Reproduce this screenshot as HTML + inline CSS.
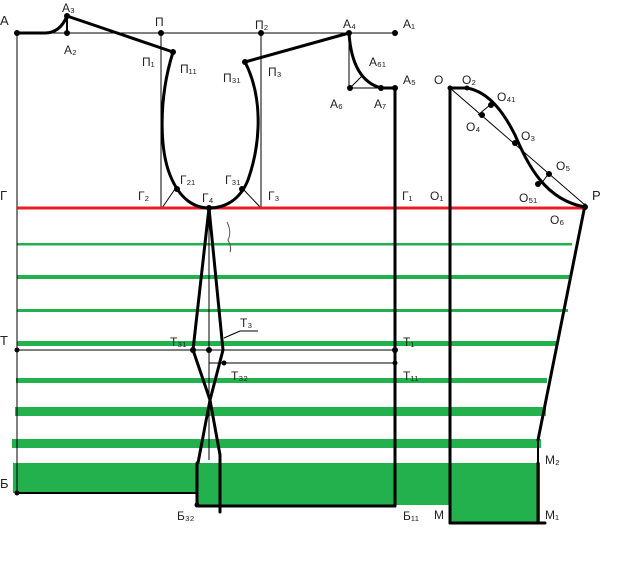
<!DOCTYPE html>
<html><head><meta charset="utf-8"><style>
html,body{margin:0;padding:0;background:#fff;}
svg{display:block;font-family:"Liberation Sans",sans-serif;}
text{font-size:12px;fill:#222;}
</style></head><body>
<svg width="640" height="569" viewBox="0 0 640 569" xmlns="http://www.w3.org/2000/svg">
<g fill="#22b14c">
<rect x="17" y="243" width="555" height="2.5"/>
<rect x="17" y="275" width="553" height="4"/>
<rect x="17" y="309" width="551" height="3"/>
<rect x="17" y="341" width="539" height="5"/>
<rect x="16" y="378" width="531" height="5"/>
<rect x="15" y="407" width="531" height="9"/>
<rect x="12" y="439" width="529" height="9"/>
<rect x="13" y="463" width="527" height="30"/>
<rect x="196" y="463" width="254" height="42"/>
<rect x="450" y="463" width="90" height="60"/>
</g>
<g stroke="#000" stroke-width="1" fill="none">
<line x1="17" y1="33" x2="395" y2="33"/>
<line x1="17" y1="33" x2="17" y2="493"/>
<line x1="161" y1="33" x2="161" y2="208"/>
<line x1="261" y1="33" x2="261" y2="208"/>
<line x1="349" y1="33" x2="349" y2="88"/>
<line x1="349" y1="88" x2="395" y2="88"/>
<line x1="350" y1="88" x2="362" y2="76"/>
<line x1="17" y1="350" x2="395" y2="350"/>
<line x1="209" y1="363" x2="395" y2="363"/>
<line x1="209" y1="208" x2="209" y2="460"/>
<line x1="450" y1="88" x2="585" y2="205"/>
<line x1="162" y1="208" x2="175" y2="189"/>
<line x1="261" y1="208" x2="243" y2="189"/>
<line x1="224" y1="338" x2="240" y2="331"/>
<line x1="240" y1="331" x2="258" y2="331"/>
<line x1="478" y1="115" x2="490" y2="105"/>
<line x1="541" y1="184" x2="549" y2="173"/>
</g>
<line x1="17" y1="208" x2="586" y2="208" stroke="#ed1c24" stroke-width="3"/>
<line x1="17" y1="493" x2="196" y2="493" stroke="#000" stroke-width="2"/>
<g stroke="#000" stroke-width="3" fill="none" stroke-linecap="round">
<path d="M17 33 L45 33 Q60 33 67 16"/>
<line x1="67" y1="16" x2="67" y2="33" stroke-width="2"/>
<line x1="67" y1="16" x2="173" y2="52"/>
<line x1="349" y1="33" x2="245" y2="62"/>
<path d="M173 52 C158 100 160 150 170 175 C180 200 195 208 209 208 C225 208 240 200 248 180 C262 140 262 95 245 62"/>
<path d="M349 33 Q352 80 381 88 L395 88"/>
<line x1="395" y1="88" x2="395" y2="506"/>
<path d="M209 208 L193 350 L210 400 L198 463"/>
<path d="M209 208 L223 350 L210 400 L220 455"/>
<line x1="197" y1="463" x2="197" y2="505"/>
<line x1="220" y1="455" x2="220" y2="512"/>
<line x1="197" y1="506" x2="395" y2="506"/>
<line x1="450" y1="88" x2="450" y2="523"/>
<line x1="450" y1="523" x2="545" y2="523"/>
<line x1="538" y1="463" x2="538" y2="523"/>
<line x1="538" y1="440" x2="538" y2="463" stroke-width="2"/>
<line x1="585" y1="205" x2="538" y2="440"/>
<path d="M450 88 L467 88 C490 92 505 115 515 135 C528 165 545 200 585 207"/>
</g>
<path d="M227 222 Q232 232 228 240 Q232 248 230 252" stroke="#555" fill="none" stroke-width="1"/>
<g fill="#000">
<circle cx="17" cy="33" r="3"/><circle cx="67" cy="16" r="3"/><circle cx="67" cy="33" r="3"/>
<circle cx="161" cy="33" r="3"/><circle cx="261" cy="33" r="3"/><circle cx="349" cy="33" r="3"/>
<circle cx="395" cy="33" r="3"/><circle cx="173" cy="52" r="3"/><circle cx="245" cy="62" r="3"/>
<circle cx="350" cy="88" r="3"/><circle cx="381" cy="88" r="3"/><circle cx="395" cy="88" r="3"/>
<circle cx="177" cy="189" r="3"/><circle cx="242" cy="189" r="3"/><circle cx="209" cy="208" r="3"/>
<circle cx="17" cy="350" r="2.5"/><circle cx="193" cy="350" r="3"/><circle cx="209" cy="350" r="3"/>
<circle cx="224" cy="363" r="2.5"/><circle cx="395" cy="350" r="3"/><circle cx="395" cy="363" r="2.5"/>
<circle cx="17" cy="493" r="2.5"/><circle cx="197" cy="505" r="2.5"/>
<circle cx="450" cy="88" r="2.5"/><circle cx="467" cy="88" r="2.5"/><circle cx="491" cy="105" r="3"/>
<circle cx="482" cy="115" r="3"/><circle cx="515" cy="143" r="3"/><circle cx="549" cy="174" r="3"/>
<circle cx="538" cy="184" r="3"/><circle cx="585" cy="207" r="3"/>
</g>
<text x="0" y="25" style="font-size:13px">А</text>
<text x="62" y="12">А₃</text><text x="64" y="54">А₂</text>
<text x="155" y="26">П</text><text x="255" y="29">П₂</text>
<text x="343" y="28">А₄</text><text x="403" y="28">А₁</text>
<text x="142" y="66">П₁</text><text x="180" y="73">П₁₁</text>
<text x="223" y="82">П₃₁</text><text x="268" y="76">П₃</text>
<text x="369" y="66">А₆₁</text><text x="403" y="84">А₅</text>
<text x="330" y="108">А₆</text><text x="374" y="108">А₇</text>
<text x="180" y="184">Г₂₁</text><text x="225" y="184">Г₃₁</text>
<text x="0" y="200" style="font-size:13px">Г</text><text x="138" y="200">Г₂</text>
<text x="202" y="202">Г₄</text><text x="268" y="200">Г₃</text>
<text x="402" y="200">Г₁</text><text x="430" y="200">О₁</text>
<text x="434" y="84">О</text><text x="462" y="84">О₂</text>
<text x="497" y="101">О₄₁</text><text x="466" y="131">О₄</text>
<text x="521" y="140">О₃</text><text x="556" y="170">О₅</text>
<text x="519" y="202">О₅₁</text><text x="592" y="200" style="font-size:13px">Р</text>
<text x="550" y="224">О₆</text>
<text x="0" y="345" style="font-size:13px">Т</text>
<text x="240" y="327">Т₃</text>
<text x="170" y="346">Т₃₁</text><text x="231" y="380">Т₃₂</text>
<text x="403" y="346">Т₁</text><text x="403" y="380">Т₁₁</text>
<text x="0" y="488" style="font-size:13px">Б</text>
<text x="177" y="520">Б₃₂</text><text x="403" y="520">Б₁₁</text>
<text x="434" y="519">М</text><text x="545" y="519">М₁</text>
<text x="545" y="464">М₂</text>
</svg>
</body></html>
